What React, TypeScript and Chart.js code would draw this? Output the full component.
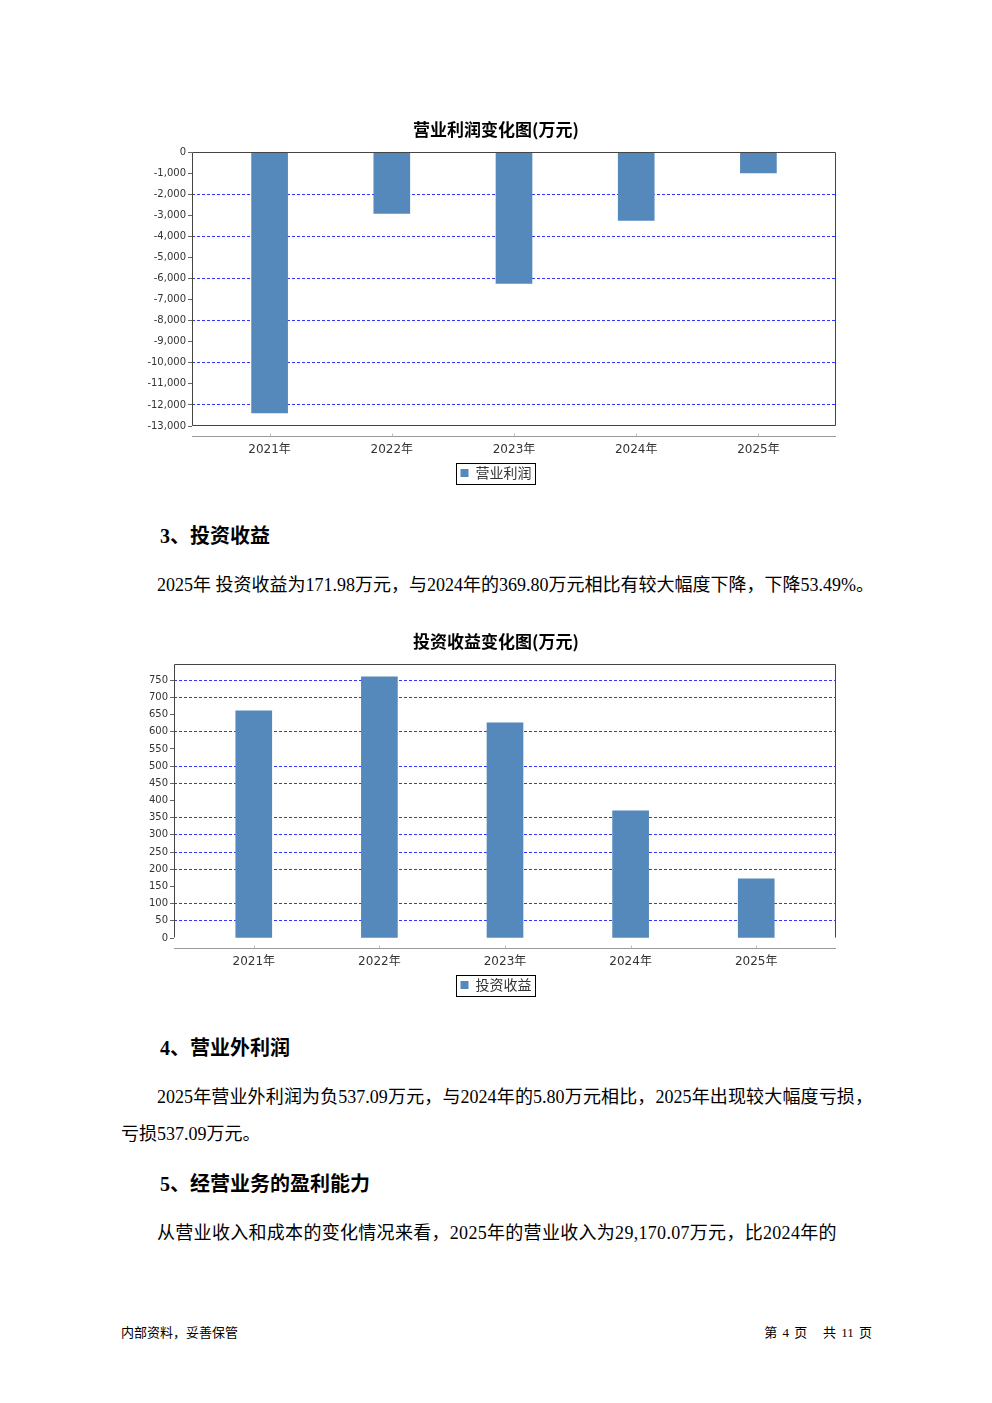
import React, { useEffect, useRef } from "react";
import { Chart, registerables } from "chart.js";

Chart.register(...registerables);

// ---------- data ----------
const years = ["2021年", "2022年", "2023年", "2024年", "2025年"];

const profitTitle = "营业利润变化图(万元)";
const profitLabel = "营业利润";
const profitValues = [-12380, -2920, -6230, -3250, -990];
const profitTicks = [0, -1000, -2000, -3000, -4000, -5000, -6000, -7000, -8000, -9000, -10000, -11000, -12000, -13000];
const profitGridShown = [-2000, -4000, -6000, -8000, -10000, -12000];

const investTitle = "投资收益变化图(万元)";
const investLabel = "投资收益";
const investValues = [661, 760, 626, 369.8, 171.98];
const investTicks = [0, 50, 100, 150, 200, 250, 300, 350, 400, 450, 500, 550, 600, 650, 700, 750];
const investGridShown = [50, 100, 200, 250, 300, 350, 450, 500, 600, 700, 750];

// ---------- styles ----------
const BAR = "#5588bb";
const SANS = '"DejaVu Sans", "Noto Sans CJK SC", sans-serif';
const CJK = '"Noto Sans CJK SC", sans-serif';
const BODY = '"Liberation Serif", "Noto Sans CJK SC", serif';

const framePlugin = {
  id: "frame",
  afterDatasetsDraw(chart: any, _args: any, opts: any) {
    const { ctx, chartArea: a } = chart;
    ctx.save();
    ctx.lineWidth = 1;
    ctx.strokeStyle = "#444";
    const L = Math.round(a.left) + 0.5;
    const R = Math.round(a.right) - 0.5;
    const T = Math.round(a.top) + 0.5;
    const B = Math.round(a.bottom) - 0.5;
    ctx.beginPath();
    ctx.moveTo(L, B);
    ctx.lineTo(L, T);
    ctx.lineTo(R, T);
    ctx.lineTo(R, B);
    if (opts && opts.bottom) ctx.lineTo(L, B);
    ctx.stroke();

    // separate category axis line
    const y = Math.round(a.bottom + 10) + 0.5;
    ctx.strokeStyle = "#999";
    ctx.beginPath();
    ctx.moveTo(a.left, y);
    ctx.lineTo(a.right, y);
    ctx.stroke();
    const xs = chart.scales.x;
    ctx.strokeStyle = "#bbb";
    ctx.beginPath();
    years.forEach((_, i) => {
      const px = Math.round(xs.getPixelForValue(i)) + 0.5;
      ctx.moveTo(px, y - 3);
      ctx.lineTo(px, y);
    });
    ctx.stroke();

    // legend frame
    const hb = chart.legend && chart.legend.legendHitBoxes && chart.legend.legendHitBoxes[0];
    if (hb) {
      ctx.strokeStyle = "#000";
      ctx.strokeRect(Math.round(hb.left - 5) + 0.5, Math.round(hb.top - 3) + 0.5, Math.round(hb.width + 8), Math.round(hb.height + 7));
    }
    ctx.restore();
  },
};

type Cfg = {
  title: string;
  label: string;
  values: number[];
  min: number;
  max: number;
  ticks: number[];
  gridShown: number[];
  axisWidth: number;
  bottom: boolean;
};

function BarChart({ cfg, top }: { cfg: Cfg; top: number }) {
  const ref = useRef<HTMLCanvasElement>(null);
  useEffect(() => {
    const chart = new Chart(ref.current as HTMLCanvasElement, {
      type: "bar",
      data: {
        datasets: [
          {
            label: cfg.label,
            data: years.map((_, i) => ({ x: i, y: cfg.values[i] })),
            backgroundColor: BAR,
            borderWidth: 0,
            barThickness: 36,
          } as any,
        ],
      },
      options: {
        animation: false,
        responsive: false,
        layout: { padding: { left: 0, right: 0, top: 0, bottom: 5 } },
        plugins: {
          title: {
            display: true,
            text: cfg.title,
            color: "#000",
            font: { family: CJK, size: 17, weight: "bold", lineHeight: 1.2 },
            padding: { top: 9, bottom: 12.6 },
          },
          legend: {
            display: true,
            position: "bottom",
            labels: {
              boxWidth: 8,
              boxHeight: 8,
              padding: 4,
              color: "#333",
              font: { family: CJK, size: 14 },
            },
          },
          tooltip: { enabled: false },
          frame: { bottom: cfg.bottom },
        } as any,
        scales: {
          x: {
            type: "linear",
            offset: false,
            min: -0.635,
            max: 4.635,
            grid: { display: false, drawTicks: false, offset: false },
            border: { display: false },
            ticks: {
              padding: 17,
              color: "#333",
              autoSkip: false,
              maxRotation: 0,
              font: { family: SANS, size: 12 },
              callback: (v: any) => years[v] ?? "",
            },
            afterBuildTicks: (s: any) => {
              s.ticks = years.map((_, i) => ({ value: i }));
            },
            afterFit: (s: any) => {
              s.height = 36;
            },
          },
          y: {
            min: cfg.min,
            max: cfg.max,
            afterBuildTicks: (s: any) => {
              s.ticks = cfg.ticks.map((v) => ({ value: v }));
            },
            afterFit: (s: any) => {
              s.width = cfg.axisWidth;
            },
            grid: {
              color: (c: any) => (c.tick && cfg.gridShown.includes(c.tick.value) ? "rgba(30,30,255,0.9)" : "rgba(0,0,0,0)"),
              tickColor: "#666",
              tickLength: 4,
              lineWidth: 1,
            },
            border: { display: false, dash: [3, 2] },
            ticks: {
              padding: 2,
              autoSkip: false,
              color: "#333",
              font: { family: SANS, size: 10 },
              callback: (v: any) => Number(v).toLocaleString("en-US"),
            },
          },
          yRight: {
            position: "right",
            display: true,
            grid: { display: false, drawTicks: false },
            border: { display: false },
            ticks: { display: false },
            afterFit: (s: any) => {
              s.width = 26;
            },
          },
        } as any,
      },
      plugins: [framePlugin],
    });
    return () => chart.destroy();
  }, [cfg]);
  return (
    <canvas
      ref={ref}
      width={732}
      height={385}
      style={{ position: "absolute", left: 130, top, width: 732, height: 385 }}
    />
  );
}

const profitCfg: Cfg = {
  title: profitTitle,
  label: profitLabel,
  values: profitValues,
  min: -13000,
  max: 0,
  ticks: profitTicks,
  gridShown: profitGridShown,
  axisWidth: 62,
  bottom: true,
};

const investCfg: Cfg = {
  title: investTitle,
  label: investLabel,
  values: investValues,
  min: 0,
  max: 797,
  ticks: investTicks,
  gridShown: investGridShown,
  axisWidth: 44,
  bottom: false,
};

function Line({
  x,
  y,
  size,
  bold,
  width,
  justify,
  spacing,
  children,
}: {
  x: number;
  y: number;
  size: number;
  bold?: boolean;
  width?: number;
  justify?: boolean;
  spacing?: number;
  children: React.ReactNode;
}) {
  return (
    <div
      style={{
        position: "absolute",
        left: x,
        top: y - 12,
        height: 24,
        lineHeight: "24px",
        fontSize: size,
        fontWeight: bold ? "bold" : "normal",
        fontFamily: BODY,
        color: "#000",
        whiteSpace: "nowrap",
        width: width,
        letterSpacing: spacing ? spacing : "normal",
        textAlign: justify ? "justify" : "left",
        textAlignLast: justify ? "justify" : "auto",
      } as any}
    >
      {children}
    </div>
  );
}

export default function App() {
  return (
    <div style={{ position: "absolute", left: 0, top: 0, width: 992, height: 1403, background: "#fff" }}>
      <BarChart cfg={profitCfg} top={110} />
      <Line x={160} y={536} size={20} bold>
        3、投资收益
      </Line>
      <Line x={157} y={585} size={18} width={716} justify>
        2025年 投资收益为171.98万元，与2024年的369.80万元相比有较大幅度下降，下降53.49%。
      </Line>
      <BarChart cfg={investCfg} top={622} />
      <Line x={160} y={1048} size={20} bold>
        4、营业外利润
      </Line>
      <Line x={157} y={1097} size={18} width={716} justify>
        2025年营业外利润为负537.09万元，与2024年的5.80万元相比，2025年出现较大幅度亏损，
      </Line>
      <Line x={121} y={1134} size={18}>
        亏损537.09万元。
      </Line>
      <Line x={160} y={1184} size={20} bold>
        5、经营业务的盈利能力
      </Line>
      <Line x={157} y={1233} size={18} spacing={0.3}>
        从营业收入和成本的变化情况来看，2025年的营业收入为29,170.07万元，比2024年的
      </Line>
      <Line x={121} y={1333} size={13}>
        内部资料，妥善保管
      </Line>
      <div
        style={{
          position: "absolute",
          right: 120,
          top: 1333 - 12,
          height: 24,
          lineHeight: "24px",
          fontSize: 13,
          fontFamily: BODY,
          color: "#000",
          whiteSpace: "pre",
          wordSpacing: 2,
        }}
      >
        {"第 4 页   共 11 页"}
      </div>
    </div>
  );
}
